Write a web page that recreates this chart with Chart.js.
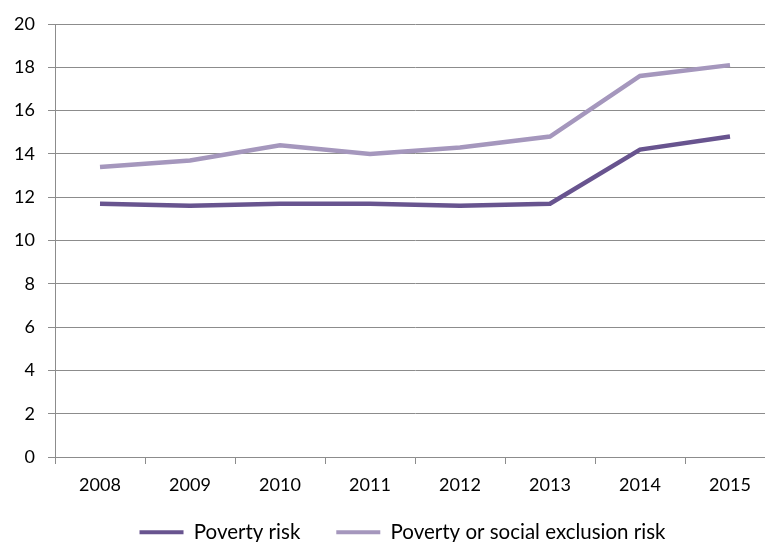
<!DOCTYPE html>
<html>
<head>
<meta charset="utf-8">
<script src="https://cdn.jsdelivr.net/npm/chart.js@4"></script>
<style>
  html, body { margin: 0; padding: 0; background: #fff; overflow: hidden; }
  #wrap { width: 790px; height: 542px; }
</style>
</head>
<body>
<div id="wrap"><canvas id="riskChart" width="790" height="542"></canvas></div>
<script>
// Data
const years = ["2008", "2009", "2010", "2011", "2012", "2013", "2014", "2015"];
const povertyRisk = [11.7, 11.6, 11.7, 11.7, 11.6, 11.7, 14.2, 14.8];
const exclusionRisk = [13.4, 13.7, 14.4, 14.0, 14.3, 14.8, 17.6, 18.1];
const yTicks = [0, 2, 4, 6, 8, 10, 12, 14, 16, 18, 20];

const gridColor = "#8c8c8c";
const font = { family: "Lato, 'Open Sans', sans-serif", size: 18 };
const legendFont = { family: "Lato, 'Open Sans', sans-serif", size: 20.5 };

// nudge the legend row after layout so it sits where the reference has it
// (only the top moves up, so the legend's own clip box still covers the row)
const legendNudge = {
    id: "legendNudge",
    afterLayout(chart) {
        const lg = chart.legend;
        lg.left += 15; lg.right += 15;
        lg.top -= 17;
    },
};

const ctx = document.getElementById("riskChart").getContext("2d");

new Chart(ctx, {
    type: "line",
    data: {
        labels: years,
        datasets: [
            {
                label: "Poverty risk",
                data: povertyRisk,
                borderColor: "#68548f",
                backgroundColor: "#68548f",
                borderWidth: 4.5,
                pointRadius: 0,
                tension: 0,
            },
            {
                label: "Poverty or social exclusion risk",
                data: exclusionRisk,
                borderColor: "#a597bd",
                backgroundColor: "#a597bd",
                borderWidth: 4.5,
                pointRadius: 0,
                tension: 0,
            },
        ],
    },
    plugins: [legendNudge],
    options: {
        responsive: false,
        animation: false,
        layout: { padding: { top: 24, right: 15, left: 0, bottom: 0 } },
        plugins: {
            tooltip: { enabled: false },
            legend: {
                position: "bottom",
                maxHeight: 39,
                labels: {
                    color: "#000",
                    font: legendFont,
                    boxWidth: 44,
                    boxHeight: 4,
                    padding: 36,
                    generateLabels: (chart) => chart.data.datasets.map((ds, i) => ({
                        text: ds.label,
                        fillStyle: ds.borderColor,
                        strokeStyle: ds.borderColor,
                        lineWidth: 0,
                        datasetIndex: i,
                        fontColor: "#000",
                    })),
                },
            },
        },
        scales: {
            x: {
                offset: true,
                grid: {
                    offset: true,
                    drawOnChartArea: false,
                    color: gridColor,
                    tickLength: 7,
                },
                border: { color: gridColor, width: 1 },
                ticks: { color: "#000", font: font, padding: 10, maxRotation: 0 },
                afterFit: (scale) => { scale.height = 46; },
            },
            y: {
                min: 0,
                max: 20,
                afterBuildTicks: (scale) => { scale.ticks = yTicks.map(v => ({ value: v })); },
                grid: { color: gridColor, tickLength: 7 },
                border: { color: gridColor, width: 1 },
                ticks: { color: "#000", font: font, padding: 13 },
                afterFit: (scale) => { scale.width = 55; },
            },
        },
    },
});
</script>
</body>
</html>
